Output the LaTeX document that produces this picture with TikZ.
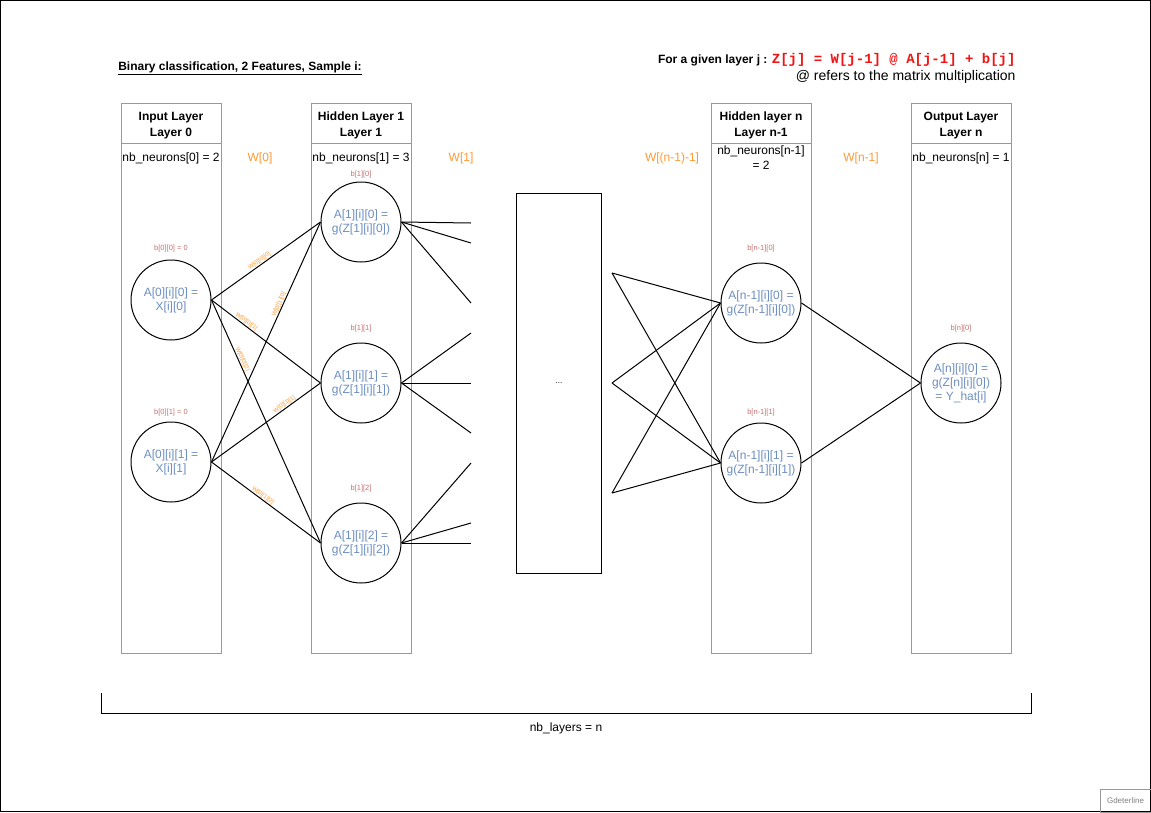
\documentclass[tikz,border=0pt]{standalone}
\usepackage{fontspec}
\setmainfont{Liberation Sans}
\setmonofont{Liberation Mono}
\usetikzlibrary{positioning}

\definecolor{framegray}{RGB}{153,153,153}
\definecolor{wcol}{RGB}{255,153,51}
\definecolor{bcol}{RGB}{196,112,112}
\definecolor{acol}{RGB}{108,142,191}
\definecolor{eqred}{RGB}{240,20,20}

\begin{document}
\begin{tikzpicture}[x=1pt,y=-1pt,line width=1pt]
    \tikzset{head/.style={draw=framegray,rectangle,minimum width=100pt,minimum height=40pt,inner sep=0pt,outer sep=0pt}}
    \tikzset{headtxt/.style={inner sep=0pt,align=center,font=\fontsize{12}{16}\selectfont\bfseries}}
    \tikzset{colbody/.style={draw=framegray,rectangle,minimum width=100pt,minimum height=510pt,outer sep=0pt}}
    \tikzset{neuron/.style={draw,circle,minimum size=80pt,inner sep=0pt,align=center,text=acol,font=\fontsize{12}{14}\selectfont}}
    \tikzset{bias/.style={text=bcol,font=\fontsize{7.5}{8}\selectfont}}
    \tikzset{wlab/.style={text=wcol,font=\fontsize{12}{14}\selectfont}}
    \tikzset{elab/.style={text=wcol,font=\fontsize{6}{6}\selectfont,sloped,above,inner sep=0.5pt}}
    \tikzset{count/.style={font=\fontsize{12}{15}\selectfont,align=center}}
    \useasboundingbox (0,0) rectangle (1151,812);
    \draw (0.5,0.5) rectangle (1150.5,811.5);
    % titles
    \node[font=\fontsize{12}{14}\selectfont\bfseries] (title) at (240,68) {\underline{Binary classification, 2 Features, Sample i:}};
    \node[anchor=east,inner sep=0pt] (eq) at (1016,60) {{\fontsize{12}{14}\selectfont\bfseries For a given layer j : }{\fontsize{14}{16}\selectfont\ttfamily\bfseries\color{eqred}Z[j] = W[j-1] @ A[j-1] + b[j]}};
    \node[anchor=east,inner sep=0pt,font=\fontsize{14}{16}\selectfont] (eqnote) at (1016,77) {@ refers to the matrix multiplication};
    % layer columns
    \node[head] (h0) at (171,123) {};
    \node[colbody] (c0) [below = 0pt of h0] {};
    \node[head] (h1) at (361,123) {};
    \node[colbody] (c1) [below = 0pt of h1] {};
    \node[head] (hn) at (761,123) {};
    \node[colbody] (cn) [below = 0pt of hn] {};
    \node[head] (ho) at (961,123) {};
    \node[colbody] (co) [below = 0pt of ho] {};
    \node[headtxt] (t0) at ([yshift=-2.5pt]h0.center) {Input Layer\\Layer 0};
    \node[headtxt] (t1) at ([yshift=-2.5pt]h1.center) {Hidden Layer 1\\Layer 1};
    \node[headtxt] (tn) at ([yshift=-2.5pt]hn.center) {Hidden layer n\\Layer n-1};
    \node[headtxt] (to) at ([yshift=-2.5pt]ho.center) {Output Layer\\Layer n};
    \node[count] (n0) at (171,158) {nb\_neurons[0] = 2};
    \node[count] (n1) at (361,158) {nb\_neurons[1] = 3};
    \node[count] (nn) at (761,158) {nb\_neurons[n-1]\\= 2};
    \node[count] (no) at (961,158) {nb\_neurons[n] = 1};
    \node[wlab] (w0) at (260,158) {W[0]};
    \node[wlab] (w1) at (461,158) {W[1]};
    \node[wlab] (wm) at (672,158) {W[(n-1)-1]};
    \node[wlab] (wn) at (861,158) {W[n-1]};
    % neurons
    \node[neuron] (a00) at (171,300) {A[0][i][0] =\\X[i][0]};
    \node[neuron] (a01) at (171,462) {A[0][i][1] =\\X[i][1]};
    \node[neuron] (a10) at (361,222) {A[1][i][0] =\\g(Z[1][i][0])};
    \node[neuron] (a11) at (361,383) {A[1][i][1] =\\g(Z[1][i][1])};
    \node[neuron] (a12) at (361,543) {A[1][i][2] =\\g(Z[1][i][2])};
    \node[neuron] (an0) at (761,303) {A[n-1][i][0] =\\g(Z[n-1][i][0])};
    \node[neuron] (an1) at (761,463) {A[n-1][i][1] =\\g(Z[n-1][i][1])};
    \node[neuron] (ao) at (961,383) {A[n][i][0] =\\g(Z[n][i][0])\\= Y\_hat[i]};
    % biases
    \node[bias] (b00) at (171,249) {b[0][0] = 0};
    \node[bias] (b01) at (171,413) {b[0][1] = 0};
    \node[bias] (b10) at (361,175) {b[1][0]};
    \node[bias] (b11) at (361,329) {b[1][1]};
    \node[bias] (b12) at (361,489) {b[1][2]};
    \node[bias] (bn0) at (761,249) {b[n-1][0]};
    \node[bias] (bn1) at (761,413) {b[n-1][1]};
    \node[bias] (bo) at (961,329) {b[n][0]};
    % weights of layer 0
    \draw (a00.east) -- node[elab,pos=0.46] {W[0][0][0]} (a10.west);
    \draw (a00.east) -- node[elab,pos=0.3] {W[0][0][1]} (a11.west);
    \draw (a00.east) -- node[elab,pos=0.25] {W[0][0][2]} (a12.west);
    \draw (a01.east) -- node[elab,pos=0.65] {W[0][1][0]} (a10.west);
    \draw (a01.east) -- node[elab,pos=0.69] {W[0][1][1]} (a11.west);
    \draw (a01.east) -- node[elab,pos=0.45] {W[0][1][2]} (a12.west);
    % hidden block
    \node[draw,rectangle,minimum width=85pt,minimum height=380pt,outer sep=0pt,font=\fontsize{8}{9}\selectfont] (mid) at (559,383) {...};
    \coordinate (s1) at (471,223);
    \coordinate (s2) at (471,243);
    \coordinate (s3) at (471,303);
    \coordinate (s4) at (471,333);
    \coordinate (s5) at (471,383);
    \coordinate (s6) at (471,433);
    \coordinate (s7) at (471,463);
    \coordinate (s8) at (471,523);
    \coordinate (s9) at (471,543);
    \foreach \s in {s1,s2,s3} \draw (a10.east) -- (\s);
    \foreach \s in {s4,s5,s6} \draw (a11.east) -- (\s);
    \foreach \s in {s7,s8,s9} \draw (a12.east) -- (\s);
    \coordinate (u1) at (612,273);
    \coordinate (u2) at (612,383);
    \coordinate (u3) at (612,493);
    \foreach \u in {u1,u2,u3} {
        \draw (\u) -- (an0.west);
        \draw (\u) -- (an1.west);
    }
    \draw (an0.east) -- (ao.west);
    \draw (an1.east) -- (ao.west);
    % layer count
    \coordinate (bl) at (101,693);
    \coordinate (br) at (1031,693);
    \draw (bl) -- ++(0,20) -| (br);
    \node[font=\fontsize{12}{14}\selectfont] (nl) at (566,728) {nb\_layers = n};
    \node[draw=framegray,line width=0.8pt,minimum width=51pt,minimum height=23pt,text=gray,font=\fontsize{8}{9}\selectfont] (sig) at (1125.5,800.5) {Gdeterline};
\end{tikzpicture}
\end{document}
